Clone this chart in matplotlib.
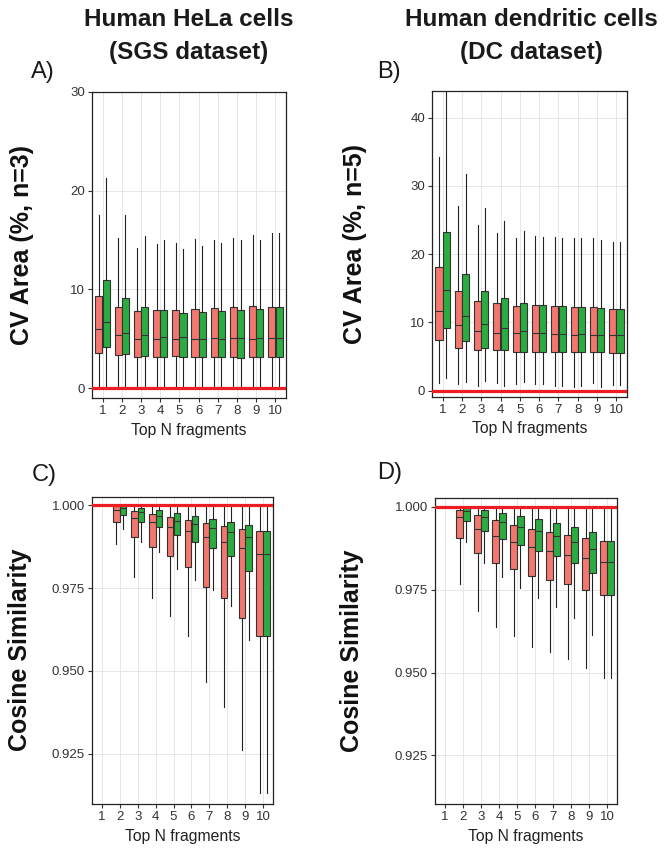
import matplotlib
matplotlib.use('Agg')
import matplotlib.pyplot as plt

plt.rcParams['font.family'] = ['Liberation Sans', 'DejaVu Sans']

top_n = list(range(1, 11))
tick_labels = [str(n) for n in top_n]

# A) HeLa, CV area (%)
hela_cv_red_lo = [0, 0, 0, 0, 0, 0, 0, 0, 0, 0]
hela_cv_red_q1 = [3.6, 3.4, 3.2, 3.2, 3.3, 3.2, 3.2, 3.2, 3.2, 3.2]
hela_cv_red_med = [6.0, 5.35, 4.95, 4.95, 4.95, 4.95, 5.05, 5.05, 4.95, 5.05]
hela_cv_red_q3 = [9.3, 8.2, 7.8, 7.9, 7.9, 8.0, 8.1, 8.2, 8.3, 8.2]
hela_cv_red_hi = [17.5, 15.2, 14.2, 14.6, 14.7, 15.1, 15.0, 15.2, 15.5, 15.7]
hela_cv_green_lo = [0, 0, 0, 0, 0, 0, 0, 0, 0, 0]
hela_cv_green_q1 = [4.2, 3.5, 3.3, 3.2, 3.2, 3.2, 3.2, 3.1, 3.2, 3.2]
hela_cv_green_med = [6.7, 5.55, 5.35, 5.15, 5.15, 4.95, 4.95, 5.05, 5.05, 5.05]
hela_cv_green_q3 = [11.0, 9.1, 8.2, 7.9, 7.6, 7.7, 7.8, 7.9, 8.0, 8.2]
hela_cv_green_hi = [21.3, 17.5, 15.4, 15.0, 14.1, 14.4, 14.7, 15.0, 15.0, 15.7]

# B) dendritic cells, CV area (%)
dc_cv_red_lo = [1.1, 1.0, 0.7, 1.1, 1.0, 1.0, 0.7, 0.5, 1.1, 0.8]
dc_cv_red_q1 = [7.35, 6.3, 5.9, 5.9, 5.7, 5.6, 5.6, 5.6, 5.6, 5.45]
dc_cv_red_med = [11.7, 9.55, 8.8, 8.5, 8.4, 8.4, 8.25, 8.1, 8.1, 8.1]
dc_cv_red_q3 = [18.1, 14.6, 13.2, 12.8, 12.35, 12.5, 12.35, 12.2, 12.2, 11.9]
dc_cv_red_hi = [34.3, 27.0, 24.2, 23.1, 22.4, 22.7, 22.5, 22.3, 22.3, 21.7]
dc_cv_green_lo = [1.9, 1.3, 1.4, 0.7, 1.3, 1.0, 0.7, 0.7, 0.5, 0.8]
dc_cv_green_q1 = [9.2, 7.2, 6.3, 6.0, 5.7, 5.7, 5.6, 5.6, 5.6, 5.45]
dc_cv_green_med = [14.7, 11.0, 9.7, 9.1, 8.7, 8.5, 8.25, 8.25, 8.1, 8.1]
dc_cv_green_q3 = [23.2, 17.1, 14.6, 13.5, 12.8, 12.5, 12.35, 12.2, 12.1, 11.9]
dc_cv_green_hi = [46.0, 31.8, 26.8, 24.8, 23.4, 22.5, 22.3, 22.3, 22.0, 21.7]

# C) HeLa, cosine similarity
hela_cos_red_lo = [1.0, 0.9883, 0.9782, 0.9719, 0.9667, 0.9605, 0.9466, 0.939, 0.926, 0.913]
hela_cos_red_q1 = [1.0, 0.995, 0.9903, 0.9874, 0.9847, 0.9814, 0.9753, 0.972, 0.9659, 0.9605]
hela_cos_red_med = [1.0, 0.9985, 0.9962, 0.995, 0.9934, 0.9922, 0.9904, 0.9889, 0.9871, 0.9853]
hela_cos_red_q3 = [1.0, 0.9997, 0.9983, 0.9974, 0.9965, 0.9956, 0.9947, 0.9937, 0.9928, 0.9922]
hela_cos_red_hi = [1.0] * 10
hela_cos_green_lo = [1.0, 0.9928, 0.9889, 0.9859, 0.9807, 0.9774, 0.9744, 0.9696, 0.9593, 0.913]
hela_cos_green_q1 = [1.0, 0.9971, 0.995, 0.9934, 0.991, 0.9889, 0.9871, 0.9847, 0.9801, 0.9605]
hela_cos_green_med = [1.0, 0.9992, 0.9979, 0.9968, 0.9953, 0.9944, 0.9931, 0.9919, 0.9904, 0.9853]
hela_cos_green_q3 = [1.0, 1.0, 0.9991, 0.9986, 0.9977, 0.9968, 0.9959, 0.995, 0.9941, 0.9922]
hela_cos_green_hi = [1.0] * 10

# D) dendritic cells, cosine similarity
dc_cos_red_lo = [1.0, 0.9768, 0.9687, 0.9638, 0.9611, 0.9578, 0.9563, 0.9542, 0.9515, 0.9484]
dc_cos_red_q1 = [1.0, 0.9905, 0.986, 0.983, 0.9812, 0.979, 0.9778, 0.9766, 0.9748, 0.9733]
dc_cos_red_med = [1.0, 0.9969, 0.9933, 0.9911, 0.9893, 0.9878, 0.9866, 0.9854, 0.9845, 0.9833]
dc_cos_red_q3 = [1.0, 0.9992, 0.9975, 0.996, 0.9945, 0.9933, 0.9923, 0.9914, 0.9905, 0.9896]
dc_cos_red_hi = [1.0] * 10
dc_cos_green_lo = [1.0, 0.9893, 0.983, 0.9787, 0.9756, 0.9726, 0.9699, 0.9666, 0.9614, 0.9484]
dc_cos_green_q1 = [1.0, 0.9957, 0.9926, 0.9902, 0.9884, 0.9866, 0.9851, 0.983, 0.98, 0.9733]
dc_cos_green_med = [1.0, 0.9987, 0.9969, 0.9954, 0.9939, 0.9926, 0.9911, 0.9893, 0.9872, 0.9833]
dc_cos_green_q3 = [1.0, 1.0, 0.999, 0.9981, 0.9972, 0.9963, 0.9951, 0.9939, 0.9923, 0.9896]
dc_cos_green_hi = [1.0] * 10

RED = '#F3776E'
GREEN = '#2BAC40'
DARK = '#333333'
W, H = 670, 851


def stats(lo, q1, med, q3, hi):
    return [dict(whislo=a, q1=b, med=c, q3=d, whishi=e)
            for a, b, c, d, e in zip(lo, q1, med, q3, hi)]


def panel(rect, red, green, ylim, yticks, ylabels, ref):
    l, t, r, b = rect
    ax = fig.add_axes([l / W, 1 - b / H, (r - l) / W, (b - t) / H])
    for series, col, off in [(red, RED, -0.19), (green, GREEN, 0.19)]:
        ax.bxp(stats(*series), positions=[n + off for n in top_n], widths=0.37,
               patch_artist=True, showfliers=False, showcaps=False, manage_ticks=False,
               boxprops=dict(facecolor=col, edgecolor=DARK, linewidth=0.8),
               medianprops=dict(color=DARK, linewidth=0.8),
               whiskerprops=dict(color='#222222', linewidth=0.8))
    ax.axhline(ref, color='#EE1D23', linewidth=2.3, zorder=5)
    ax.set_xlim(0.45, 10.55)
    ax.set_ylim(*ylim)
    ax.set_xticks(top_n)
    ax.set_xticklabels(tick_labels)
    ax.set_yticks(yticks)
    ax.set_yticklabels(ylabels)
    ax.grid(True, color='#E3E3E3', linewidth=0.6)
    ax.set_axisbelow(True)
    ax.tick_params(length=3, width=0.8, color=DARK, labelcolor=DARK, labelsize=9.5, pad=2)
    for s in ax.spines.values():
        s.set_color('#222222')
        s.set_linewidth(0.9)
    ax.set_xlabel('Top N fragments', fontsize=11.3, color='#222222', labelpad=4)
    return ax


fig = plt.figure(figsize=(W / 100, H / 100), dpi=100)

panel((92, 92, 286, 398),
      (hela_cv_red_lo, hela_cv_red_q1, hela_cv_red_med, hela_cv_red_q3, hela_cv_red_hi),
      (hela_cv_green_lo, hela_cv_green_q1, hela_cv_green_med, hela_cv_green_q3, hela_cv_green_hi),
      (-1.0, 30.0), [0, 10, 20, 30], ['0', '10', '20', '30'], 0)
panel((432, 91, 627, 397),
      (dc_cv_red_lo, dc_cv_red_q1, dc_cv_red_med, dc_cv_red_q3, dc_cv_red_hi),
      (dc_cv_green_lo, dc_cv_green_q1, dc_cv_green_med, dc_cv_green_q3, dc_cv_green_hi),
      (-0.94, 43.9), [0, 10, 20, 30, 40], ['0', '10', '20', '30', '40'], 0)
cos_ticks = [0.925, 0.95, 0.975, 1.0]
cos_labels = ['0.925', '0.950', '0.975', '1.000']
panel((92, 497, 273, 804),
      (hela_cos_red_lo, hela_cos_red_q1, hela_cos_red_med, hela_cos_red_q3, hela_cos_red_hi),
      (hela_cos_green_lo, hela_cos_green_q1, hela_cos_green_med, hela_cos_green_q3, hela_cos_green_hi),
      (0.9098, 1.0025), cos_ticks, cos_labels, 1.0)
panel((435, 498, 617, 804),
      (dc_cos_red_lo, dc_cos_red_q1, dc_cos_red_med, dc_cos_red_q3, dc_cos_red_hi),
      (dc_cos_green_lo, dc_cos_green_q1, dc_cos_green_med, dc_cos_green_q3, dc_cos_green_hi),
      (0.9103, 1.0027), cos_ticks, cos_labels, 1.0)

# titles
for x, lines in [(189, ['Human HeLa cells', '(SGS dataset)']),
                 (531, ['Human dendritic cells', '(DC dataset)'])]:
    fig.text(x / W, 1 - 20 / H, lines[0], ha='center', va='center',
             fontsize=17.5, fontweight='bold', color='#1a1a1a')
    fig.text(x / W, 1 - 53 / H, lines[1], ha='center', va='center',
             fontsize=17.5, fontweight='bold', color='#1a1a1a')

# panel letters
for x, y, s in [(31, 72, 'A)'), (377, 72, 'B)'), (32, 475, 'C)'), (377, 473, 'D)')]:
    fig.text(x / W, 1 - y / H, s, ha='left', va='center', fontsize=17, color='#1a1a1a')

# y labels
for x, y, s in [(22, 245, 'CV Area (%, n=3)'), (355, 244, 'CV Area (%, n=5)'),
                (20, 650, 'Cosine Similarity'), (352, 651, 'Cosine Similarity')]:
    fig.text(x / W, 1 - y / H, s, ha='center', va='center', rotation=90,
             fontsize=18, fontweight='bold', color='#111111')

fig.savefig('out.png', dpi=100)
